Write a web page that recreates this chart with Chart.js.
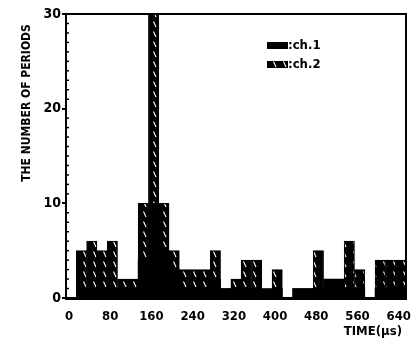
<!DOCTYPE html>
<html>
<head>
<meta charset="utf-8">
<script src="https://cdn.jsdelivr.net/npm/chart.js@4/dist/chart.umd.min.js"></script>
<style>
  html, body { margin: 0; padding: 0; background: #fff; }
  #wrap { width: 419px; height: 345px; }
</style>
</head>
<body>
<div id="wrap"><canvas id="periodChart" width="419" height="345"></canvas></div>
<script>
// histogram bins, 20 us wide, by bin start (us)
const binStarts = [0, 20, 40, 60, 80, 100, 120, 140, 160, 180, 200, 220, 240, 260, 280, 300,
  320, 340, 360, 380, 400, 420, 440, 460, 480, 500, 520, 540, 560, 580, 600, 620, 640];
const binWidth = 20;
const ch1Counts = [0, 1, 1, 1, 1, 1, 1, 4, 10, 5, 3, 1, 1, 1, 2, 1,
  1, 1, 1, 1, 1, 0, 1, 1, 1, 2, 2, 1, 1, 0, 1, 1, 1];
const ch2Counts = [0, 5, 6, 5, 6, 2, 2, 10, 30, 10, 5, 3, 3, 3, 5, 1,
  2, 4, 4, 0, 3, 0, 1, 1, 5, 1, 1, 6, 3, 0, 4, 4, 4];
const xTicks = [0, 80, 160, 240, 320, 400, 480, 560, 640];
const yTicks = [0, 10, 20, 30];

const fontFamily = '"DejaVu Sans Condensed", "DejaVu Sans", sans-serif';
const periodChart = document.getElementById('periodChart');

// black fill with sparse white "\" streaks
function makeHatch() {
  const tile = document.createElement('canvas');
  tile.width = 10;
  tile.height = 10;
  const c = tile.getContext('2d');
  c.fillStyle = '#000';
  c.fillRect(0, 0, 10, 10);
  c.strokeStyle = '#fff';
  c.lineWidth = 1.1;
  c.beginPath();
  c.moveTo(3.5, 1.5);
  c.lineTo(6, 7);
  c.stroke();
  return periodChart.getContext('2d').createPattern(tile, 'repeat');
}

const toPoints = counts => counts.map((n, i) => ({ x: binStarts[i] + binWidth / 2, y: n }));

// frame, minor ticks, axis titles and the inset legend
const decorations = {
  id: 'decorations',
  afterDraw(chart) {
    const { ctx, chartArea: a, scales: { y } } = chart;
    ctx.save();
    ctx.strokeStyle = '#000';
    ctx.lineWidth = 2;
    ctx.beginPath();
    ctx.moveTo(a.left, a.top);
    ctx.lineTo(a.right, a.top);
    ctx.lineTo(a.right, a.bottom);
    ctx.stroke();

    ctx.lineWidth = 1.5;
    for (let v = 1; v < 30; v++) {
      if (v % 10 === 0) continue;
      const py = y.getPixelForValue(v);
      ctx.beginPath();
      ctx.moveTo(a.left, py);
      ctx.lineTo(a.left + 3, py);
      ctx.stroke();
    }

    ctx.fillStyle = '#000';
    ctx.font = 'bold 12px ' + fontFamily;
    ctx.textAlign = 'center';
    ctx.textBaseline = 'middle';
    ctx.save();
    ctx.translate(27, 103);
    ctx.rotate(-Math.PI / 2);
    ctx.fillText('THE NUMBER OF PERIODS', 0, 0);
    ctx.restore();

    ctx.font = 'bold 13px ' + fontFamily;
    ctx.textAlign = 'right';
    ctx.fillText('TIME(\u00b5s)', 402, 332);

    ctx.textAlign = 'left';
    chart.data.datasets.forEach((ds, i) => {
      const top = 42 + i * 19;
      ctx.fillStyle = ds.backgroundColor;
      ctx.fillRect(267, top, 21, 7);
      ctx.fillStyle = '#000';
      ctx.fillText(':' + ds.label, 288, top + 4);
    });
    ctx.restore();
  }
};

new Chart(periodChart, {
  type: 'bar',
  data: {
    datasets: [{
      label: 'ch.1',
      data: toPoints(ch1Counts),
      backgroundColor: '#000',
      borderWidth: 0
    }, {
      label: 'ch.2',
      data: toPoints(ch2Counts),
      backgroundColor: makeHatch(),
      borderColor: '#000',
      borderWidth: 1
    }]
  },
  options: {
    responsive: false,
    animation: false,
    events: [],
    grouped: false,
    barPercentage: 1,
    categoryPercentage: 1,
    layout: { padding: { top: 14, right: 13, left: 0, bottom: 0 } },
    plugins: { legend: { display: false }, tooltip: { enabled: false } },
    scales: {
      x: {
        type: 'linear',
        offset: false,
        min: 0,
        max: 660,
        afterFit: scale => { scale.height = 47; },
        afterBuildTicks: scale => { scale.ticks = xTicks.map(v => ({ value: v })); },
        border: { display: true, color: '#000', width: 3 },
        grid: { display: false },
        ticks: {
          color: '#000',
          padding: 3,
          labelOffset: 3,
          maxRotation: 0,
          autoSkip: false,
          font: { family: fontFamily, size: 13, weight: 'bold' }
        }
      },
      y: {
        min: 0,
        max: 30,
        afterFit: scale => { scale.width = 66; },
        afterBuildTicks: scale => { scale.ticks = yTicks.map(v => ({ value: v })); },
        border: { display: true, color: '#000', width: 2 },
        grid: { drawOnChartArea: false, drawTicks: true, tickLength: 4, color: '#000', lineWidth: 2 },
        ticks: {
          color: '#000',
          padding: 1,
          font: { family: fontFamily, size: 14, weight: 'bold' }
        }
      }
    }
  },
  plugins: [decorations]
});
</script>
</body>
</html>
